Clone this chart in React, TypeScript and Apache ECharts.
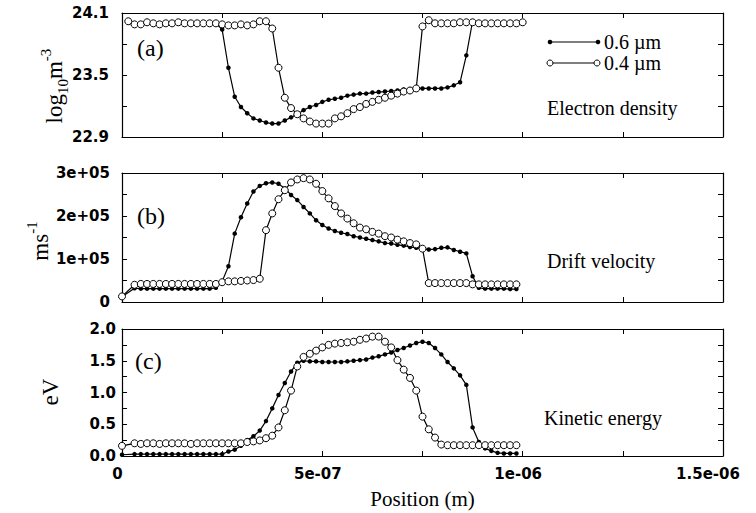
import React, { useEffect, useRef } from "react";
import * as echarts from "echarts";

// Sample positions in micrometres (k/64 µm, k = 0..64); axis labels show metres.
const X_UM = [
  0, 0.0156, 0.0313, 0.0469, 0.0625, 0.0781, 0.0938, 0.1094, 0.125,
  0.1406, 0.1563, 0.1719, 0.1875, 0.2031, 0.2188, 0.2344, 0.25,
  0.2656, 0.2813, 0.2969, 0.3125, 0.3281, 0.3438, 0.3594, 0.375,
  0.3906, 0.4063, 0.4219, 0.4375, 0.4531, 0.4688, 0.4844, 0.5,
  0.5156, 0.5313, 0.5469, 0.5625, 0.5781, 0.5938, 0.6094, 0.625,
  0.6406, 0.6563, 0.6719, 0.6875, 0.7031, 0.7188, 0.7344, 0.75,
  0.7656, 0.7813, 0.7969, 0.8125, 0.8281, 0.8438, 0.8594, 0.875,
  0.8906, 0.9063, 0.9219, 0.9375, 0.9531, 0.9688, 0.9844, 1.0,
];

// (a) Electron density, log10 m^-3
const DENSITY_06 = [
  null,
  24.01, 23.99, 23.99, 24.0, 24.0, 23.99, 24.0, 24.0,
  24.0, 24.0, 24.0, 24.0, 24.0, 24.0, 24.0, 23.94,
  23.57, 23.29, 23.19, 23.13, 23.08, 23.06, 23.04, 23.03,
  23.03, 23.06, 23.09, 23.12, 23.16, 23.19, 23.21, 23.24,
  23.26, 23.27, 23.28, 23.30, 23.31, 23.32, 23.32, 23.33,
  23.335, 23.34, 23.345, 23.35, 23.36, 23.36, 23.37, 23.37,
  23.37, 23.37, 23.37, 23.38, 23.40, 23.43, 23.69, 24.02,
  24.0, 24.0, 24.0, 24.0, 24.0, 24.0, 24.0, 24.0,
];
const DENSITY_04 = [
  null,
  24.02, 23.99, 23.99, 24.01, 24.0, 23.99, 24.0, 24.0,
  24.01, 24.0, 24.0, 24.0, 24.0, 24.0, 24.0, 23.99,
  23.98, 23.98, 23.99, 23.98, 23.99, 24.02, 24.02, 23.95,
  23.57, 23.28, 23.18, 23.12, 23.08, 23.05, 23.03, 23.03,
  23.03, 23.08, 23.10, 23.13, 23.17, 23.19, 23.22, 23.24,
  23.26, 23.28, 23.30, 23.32, 23.34, 23.35, 23.37, 23.97,
  24.03, 24.0, 24.0, 24.0, 24.0, 24.01, 24.01, 24.01,
  24.0, 24.0, 24.0, 24.0, 24.0, 24.0, 24.0, 24.01,
];

// (b) Drift velocity, m/s
const VELOCITY_06 = [
  12000, null,
  32000, 31000, 31000, 31000, 31000, 31000, 31000, 31000,
  31000, 31000, 31000, 31000, 31000, 33000, 48000, 83000,
  159000, 197000, 229000, 257000, 270000, 276000, 278000, 275000,
  264000, 249000, 237000, 221000, 206000, 190000, 179000, 171000,
  165000, 161000, 158000, 153000, 150000, 147000, 144000, 141000,
  137000, 136000, 133000, 131000, 128000, 126000, 124000, 122000,
  123000, 126000, 127000, 121000, 117000, 113000, 60000, 33000,
  31000, 31000, 31000, 31000, 30000, 30000, null,
];
const VELOCITY_04 = [
  13000, null,
  40000, 42000, 42000, 42000, 42000, 42000, 42000, 42000,
  42000, 42000, 42000, 42000, 42000, 42000, 46000, 48000,
  48000, 49000, 50000, 51000, 54000, 167000, 206000, 239000,
  260000, 278000, 285000, 288000, 285000, 275000, 258000, 241000,
  223000, 206000, 194000, 183000, 173000, 169000, 163000, 159000,
  153000, 150000, 145000, 141000, 137000, 134000, 124000, 44000,
  44000, 44000, 44000, 44000, 44000, 44000, 41000, 41000,
  41000, 41000, 41000, 41000, 41000, 41000, null,
];

// (c) Kinetic energy, eV
const ENERGY_06 = [
  0.02, null,
  0.03, 0.03, 0.03, 0.03, 0.03, 0.03, 0.03, 0.03,
  0.03, 0.03, 0.03, 0.03, 0.03, 0.03, 0.03, 0.07,
  0.10, 0.16, 0.25, 0.31, 0.40, 0.55, 0.75, 0.96,
  1.15, 1.33, 1.47, 1.50, 1.49, 1.49, 1.48, 1.48,
  1.48, 1.48, 1.49, 1.50, 1.51, 1.52, 1.55, 1.57,
  1.60, 1.63, 1.67, 1.70, 1.74, 1.78, 1.80, 1.78,
  1.70, 1.60, 1.48, 1.38, 1.27, 1.12, 0.45, 0.22,
  0.12, 0.08, 0.05, 0.04, 0.04, 0.04, null,
];
const ENERGY_04 = [
  0.16, null,
  0.2, 0.19, 0.2, 0.2, 0.19, 0.2, 0.2, 0.2,
  0.2, 0.19, 0.2, 0.2, 0.2, 0.2, 0.2, 0.2,
  0.2, 0.2, 0.22, 0.23, 0.245, 0.28, 0.32, 0.45,
  0.72, 1.03, 1.41, 1.56, 1.61, 1.66, 1.71, 1.75,
  1.77, 1.78, 1.79, 1.80, 1.83, 1.85, 1.88, 1.88,
  1.80, 1.71, 1.51, 1.36, 1.23, 1.03, 0.62, 0.42,
  0.29, 0.18, 0.17, 0.17, 0.17, 0.17, 0.17, 0.17,
  0.17, 0.17, 0.17, 0.17, 0.17, 0.17, null,
];

const X_TICK_LABELS = ["0", "5e-07", "1e-06", "1.5e-06"];
const Y_A_LABELS = ["22.9", "23.5", "24.1"];
const Y_B_LABELS = ["0", "1e+05", "2e+05", "3e+05"];
const Y_C_LABELS = ["0.0", "0.5", "1.0", "1.5", "2.0"];
const SERIES_NAMES = ["0.6 µm", "0.4 µm"];
const PANEL_TAGS = ["(a)", "(b)", "(c)"];
const PANEL_TITLES = ["Electron density", "Drift velocity", "Kinetic energy"];

const SERIF = "Liberation Serif";
const SANS = "DejaVu Sans";

function pairs(ys: (number | null)[]) {
  const out: number[][] = [];
  ys.forEach((y, i) => {
    if (y !== null && y !== undefined) out.push([X_UM[i], y]);
  });
  return out;
}

function pickIndex(r: number, n: number) {
  const k = Math.round(r);
  return Math.abs(r - k) < 1e-6 && k >= 0 && k < n ? k : -1;
}
function pick(labels: string[], r: number) {
  const k = pickIndex(r, labels.length);
  return k >= 0 ? labels[k] : "";
}

const axisLine = { show: true, onZero: false, lineStyle: { color: "#000", width: 1.2 } };
const axisTick = { show: true, inside: true, length: 5, lineStyle: { color: "#000", width: 1 } };
const tickFont = { fontFamily: SANS, fontWeight: "bold" as const, fontSize: 15, color: "#000" };

const GRIDS = [
  { left: 122, right: 33, top: 13, height: 124 },
  { left: 122, right: 33, top: 173, height: 129 },
  { left: 122, right: 33, top: 329, height: 127 },
];

const Y_SPECS = [
  { min: 22.9, max: 24.1, interval: 0.3, margin: 13, fmt: (v: number) => pick(Y_A_LABELS, (v - 22.9) / 0.6) },
  { min: 0, max: 300000, interval: 50000, margin: 12, fmt: (v: number) => pick(Y_B_LABELS, v / 100000) },
  { min: 0, max: 2, interval: 0.25, margin: 6, fmt: (v: number) => pick(Y_C_LABELS, v / 0.5) },
];

const PANEL_DATA = [
  [DENSITY_06, DENSITY_04],
  [VELOCITY_06, VELOCITY_04],
  [ENERGY_06, ENERGY_04],
];

function xLabel(v: number) {
  const k = pickIndex(v / 0.5, X_TICK_LABELS.length);
  if (k < 0) return "";
  return k === X_TICK_LABELS.length - 1 ? `{e|${X_TICK_LABELS[k]}}` : `{n|${X_TICK_LABELS[k]}}`;
}

function buildOption() {
  const xAxis: any[] = [];
  const yAxis: any[] = [];
  const series: any[] = [];
  GRIDS.forEach((_, g) => {
    const last = g === 2;
    xAxis.push({
      type: "value", gridIndex: g, position: "bottom", min: 0, max: 1.5, interval: 0.25,
      axisLine, axisTick, splitLine: { show: false },
      axisLabel: {
        show: last, margin: 10, ...tickFont, formatter: xLabel,
        rich: {
          n: { ...tickFont, padding: [0, 9, 0, 0] },
          e: { ...tickFont, padding: [0, 30, 0, 0] },
        },
      },
      name: last ? "Position (m)" : "",
      nameLocation: "middle", nameGap: 32,
      nameTextStyle: { fontFamily: SERIF, fontSize: 21, color: "#000" },
    });
    xAxis.push({
      type: "value", gridIndex: g, position: "top", min: 0, max: 1.5, interval: 0.25,
      axisLine, axisTick, splitLine: { show: false }, axisLabel: { show: false },
    });
    const ys = Y_SPECS[g];
    yAxis.push({
      type: "value", gridIndex: g, position: "left", min: ys.min, max: ys.max, interval: ys.interval,
      axisLine, axisTick, splitLine: { show: false },
      axisLabel: { margin: ys.margin, ...tickFont, formatter: ys.fmt },
    });
    yAxis.push({
      type: "value", gridIndex: g, position: "right", min: ys.min, max: ys.max, interval: ys.interval,
      axisLine, axisTick, splitLine: { show: false }, axisLabel: { show: false },
    });
    const [d06, d04] = PANEL_DATA[g];
    series.push({
      type: "line", name: SERIES_NAMES[0], xAxisIndex: 2 * g, yAxisIndex: 2 * g,
      data: pairs(d06), symbol: "circle", symbolSize: 4.5, showSymbol: true,
      itemStyle: { color: "#000" }, lineStyle: { color: "#000", width: 1.2 }, z: 2,
    });
    series.push({
      type: "line", name: SERIES_NAMES[1], xAxisIndex: 2 * g, yAxisIndex: 2 * g,
      data: pairs(d04), symbol: "circle", symbolSize: 7, showSymbol: true,
      itemStyle: { color: "#fff", borderColor: "#000", borderWidth: 1 },
      lineStyle: { color: "#000", width: 1.2 }, z: 3,
    });
  });

  const serifText = (x: number, y: number, text: string, size: number) => ({
    type: "text", x, y,
    style: { text, fontFamily: SERIF, fontSize: size, fill: "#000", verticalAlign: "middle", align: "left" },
  });

  const rotTitle = (x: number, y: number, text: string, rich: any) => ({
    type: "text", x, y, rotation: Math.PI / 2,
    style: { text, rich, fill: "#000", align: "center", verticalAlign: "middle", fontFamily: SERIF, fontSize: 23 },
  });

  const richBase = {
    b: { fontFamily: SERIF, fontSize: 23, lineHeight: 32, verticalAlign: "middle", fill: "#000" },
    s: { fontFamily: SERIF, fontSize: 15, lineHeight: 15, verticalAlign: "bottom", fill: "#000" },
    p: { fontFamily: SERIF, fontSize: 15, lineHeight: 15, verticalAlign: "top", fill: "#000" },
  };

  const graphic: any[] = [
    serifText(137, 48, PANEL_TAGS[0], 24),
    serifText(137, 216, PANEL_TAGS[1], 24),
    serifText(135, 361, PANEL_TAGS[2], 24),
    serifText(547, 108, PANEL_TITLES[0], 20),
    serifText(547, 261, PANEL_TITLES[1], 20),
    serifText(544, 418, PANEL_TITLES[2], 20),
    rotTitle(54, 86, "{b|log}{s|10}{b|m}{p|-3}", richBase),
    rotTitle(40, 241, "{b|ms}{p|-1}", richBase),
    rotTitle(50, 392, "{b|eV}", richBase),
    // legend
    { type: "line", shape: { x1: 550, y1: 42, x2: 598, y2: 42 }, style: { stroke: "#000", lineWidth: 1.2 } },
    { type: "circle", shape: { cx: 550, cy: 42, r: 2.3 }, style: { fill: "#000" } },
    { type: "circle", shape: { cx: 598, cy: 42, r: 2.3 }, style: { fill: "#000" } },
    serifText(604, 42, SERIES_NAMES[0], 20),
    { type: "line", shape: { x1: 550, y1: 63, x2: 597, y2: 63 }, style: { stroke: "#000", lineWidth: 1.2 } },
    { type: "circle", shape: { cx: 550, cy: 63, r: 3 }, style: { fill: "#fff", stroke: "#000", lineWidth: 1 } },
    { type: "circle", shape: { cx: 597, cy: 63, r: 3 }, style: { fill: "#fff", stroke: "#000", lineWidth: 1 } },
    serifText(604, 63, SERIES_NAMES[1], 20),
  ];

  return {
    animation: false,
    backgroundColor: "#fff",
    grid: GRIDS,
    xAxis,
    yAxis,
    series,
    graphic,
  };
}

export default function App() {
  const ref = useRef<HTMLDivElement>(null);
  useEffect(() => {
    if (!ref.current) return;
    const chart = echarts.init(ref.current, null, { renderer: "svg" });
    chart.setOption(buildOption() as any);
    return () => chart.dispose();
  }, []);
  return (
    <div
      ref={ref}
      style={{ position: "fixed", left: 0, top: 0, width: 756, height: 513, background: "#fff" }}
    />
  );
}
